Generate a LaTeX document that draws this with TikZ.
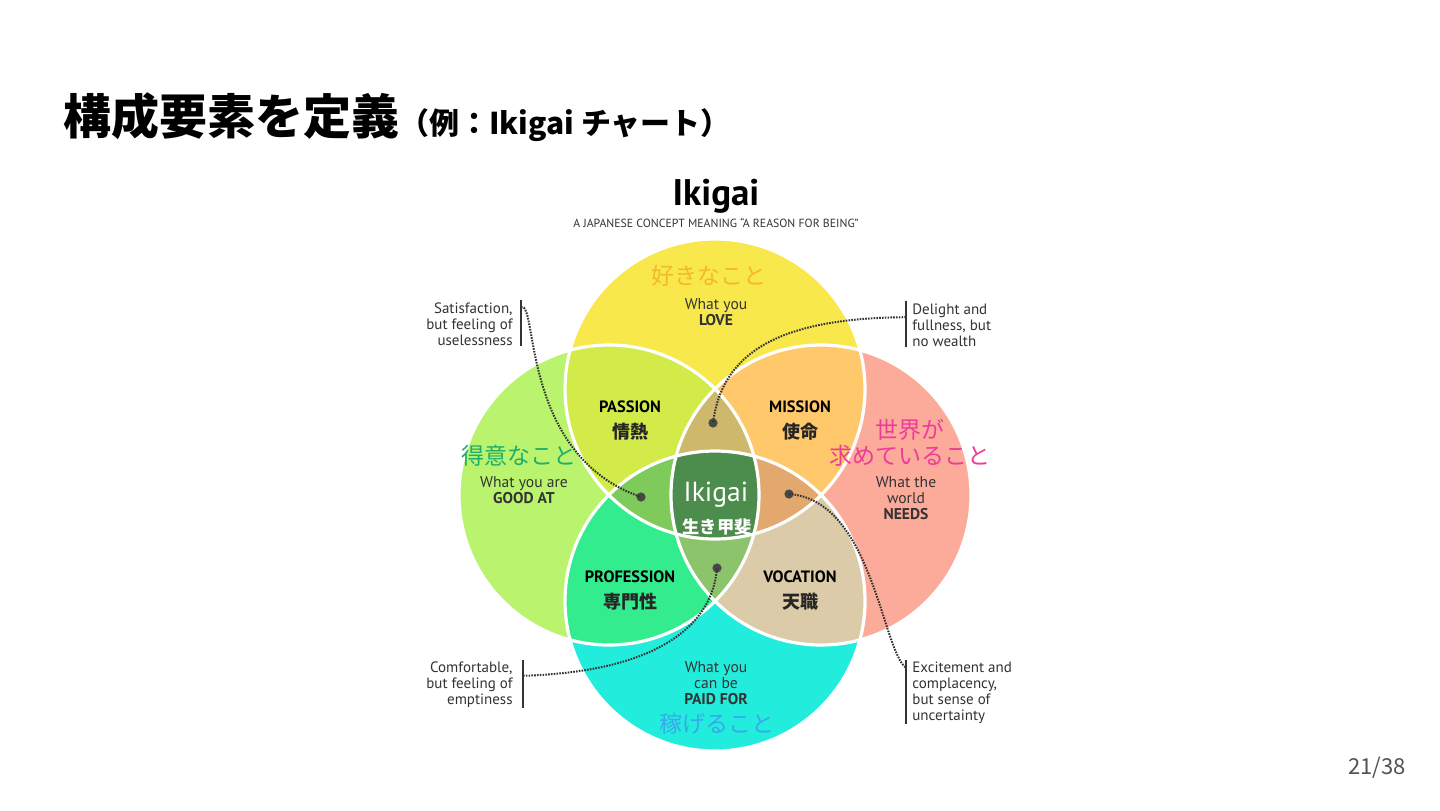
\documentclass[tikz,border=0pt]{standalone}
\usepackage{fontspec}
\usepackage{xcolor}
\usetikzlibrary{positioning}
\newfontfamily\jpfont{Noto Sans CJK JP}
\newfontfamily\chartfont{PT Sans}
\definecolor{love}{HTML}{F8E84C}
\definecolor{good}{HTML}{BAF46E}
\definecolor{world}{HTML}{FCAB9B}
\definecolor{paid}{HTML}{22ECDC}
\definecolor{passion}{HTML}{D2EB48}
\definecolor{mission}{HTML}{FFC86B}
\definecolor{profession}{HTML}{33EC8E}
\definecolor{vocation}{HTML}{DBCBA9}
\definecolor{lensup}{HTML}{CDB86B}
\definecolor{lensleft}{HTML}{7ECB5B}
\definecolor{lensright}{HTML}{E2A86E}
\definecolor{lenslow}{HTML}{8CC46C}
\definecolor{core}{HTML}{4C8C4C}
\definecolor{ink}{HTML}{333333}
\definecolor{jplove}{HTML}{F5B82A}
\definecolor{jpgood}{HTML}{1EAE6A}
\definecolor{jpworld}{HTML}{EE3A98}
\definecolor{jppaid}{HTML}{3BA8EE}
\tikzset{
  ring/.style={draw=white, line width=1.6pt},
  what/.style={font=\chartfont\fontsize{7.8}{8}\selectfont, text=ink, align=center, inner sep=0pt},
  caps/.style={font=\chartfont\bfseries\fontsize{8.2}{9}\selectfont, text=black, inner sep=0pt},
  jplbl/.style={font=\jpfont\bfseries\fontsize{9}{10}\selectfont, text=black!85, inner sep=0pt},
  jpbig/.style={font=\jpfont\fontsize{11.5}{13}\selectfont, align=center, inner sep=0pt},
  side/.style={font=\chartfont\fontsize{7.5}{8}\selectfont, text=ink, inner sep=0pt},
  bar/.style={line width=1.3pt, draw=ink},
  lead/.style={dash pattern=on 0.8pt off 0.6pt, line width=1pt, draw=ink},
  pin/.style={circle, fill=ink!90, inner sep=0pt, minimum size=4.6pt},
}
\newcommand{\R}{150}
\newcommand{\disc}[2]{\fill[#2] (#1) circle[radius=\R];}
\newcommand{\pair}[3]{\begin{scope}\clip (#1) circle[radius=\R]; \disc{#2}{#3}\end{scope}}
\newcommand{\triple}[4]{\begin{scope}\clip (#1) circle[radius=\R]; \clip (#2) circle[radius=\R]; \disc{#3}{#4}\end{scope}}

\begin{document}
\begin{tikzpicture}[x=0.5pt,y=-0.5pt]
  \useasboundingbox[fill=white] (0,0) rectangle (1440,810);
  % title
  \node[anchor=base west, inner sep=0pt, font=\jpfont\bfseries] (title) at (63,134)
    {\fontsize{24}{26}\selectfont 構成要素を定義\fontsize{15}{16}\selectfont （例：Ikigai チャート）};
  \node[anchor=base, inner sep=0pt, font=\chartfont\bfseries\fontsize{18.5}{20}\selectfont] (head) at (716,205) {Ikigai};
  \node[anchor=base, inner sep=0pt, font=\chartfont\fontsize{5.9}{6}\selectfont, text=ink] (sub) at (716,227)
    {A JAPANESE CONCEPT MEANING “A REASON FOR BEING”};
  % circles
  \coordinate (cLove) at (715,389);
  \coordinate (cGood) at (609,495);
  \coordinate (cWorld) at (821,495);
  \coordinate (cPaid) at (715,601);
  \disc{cLove}{love}
  \disc{cGood}{good}
  \disc{cWorld}{world}
  \disc{cPaid}{paid}
  \pair{cLove}{cGood}{passion}
  \pair{cLove}{cWorld}{mission}
  \pair{cGood}{cPaid}{profession}
  \pair{cWorld}{cPaid}{vocation}
  \triple{cLove}{cGood}{cWorld}{lensup}
  \triple{cLove}{cGood}{cPaid}{lensleft}
  \triple{cLove}{cWorld}{cPaid}{lensright}
  \triple{cGood}{cWorld}{cPaid}{lenslow}
  \begin{scope}
    \clip (cLove) circle[radius=\R];
    \clip (cGood) circle[radius=\R];
    \clip (cWorld) circle[radius=\R];
    \disc{cPaid}{core}
  \end{scope}
  \foreach \c in {cLove,cGood,cWorld,cPaid}
    \draw[ring] (\c) circle[radius=\R];
  % circle texts
  \node[jpbig, text=jplove] (jLove) at (709,276) {好きなこと};
  \node[what] (wLove) at (716,312) {What you\\\textbf{LOVE}};
  \node[jpbig, text=jpgood] (jGood) at (519,456) {得意なこと};
  \node[what] (wGood) at (524,490) {What you are\\\textbf{GOOD AT}};
  \node[jpbig, text=jpworld] (jWorld) at (910,443) {世界が\\求めていること};
  \node[what] (wWorld) at (906,498) {What the\\world\\\textbf{NEEDS}};
  \node[what] (wPaid) at (716,683) {What you\\can be\\\textbf{PAID FOR}};
  \node[jpbig, text=jppaid] (jPaid) at (717,724) {稼げること};
  % overlaps
  \node[caps] (passion) at (630,407) {PASSION};
  \node[jplbl] (jPassion) at (630,432) {情熱};
  \node[caps] (mission) at (800,407) {MISSION};
  \node[jplbl] (jMission) at (800,432) {使命};
  \node[caps] (profession) at (630,577) {PROFESSION};
  \node[jplbl] (jProfession) at (630,602) {専門性};
  \node[caps] (vocation) at (800,577) {VOCATION};
  \node[jplbl] (jVocation) at (800,602) {天職};
  \node[font=\chartfont\fontsize{13.8}{15}\selectfont, text=white, inner sep=0pt] (ikigai) at (716,495) {Ikigai};
  \node[font=\jpfont\bfseries\fontsize{8.6}{10}\selectfont, text=white, inner sep=0pt] (jIkigai) at (717,527) {生き甲斐};
  % side notes
  \node[side, align=right, anchor=east] (s1) at (513,324) {Satisfaction,\\but feeling of\\uselessness};
  \node[side, align=left, anchor=west] (s2) at (912,325) {Delight and\\fullness, but\\no wealth};
  \node[side, align=right, anchor=east] (s3) at (513,685) {Comfortable,\\but feeling of\\emptiness};
  \node[side, align=left, anchor=west] (s4) at (912,693) {Excitement and\\complacency,\\but sense of\\uncertainty};
  \draw[bar] ([xshift=4pt,yshift=1pt]s1.north east) coordinate (b1) -- ([xshift=4pt]s1.south east);
  \draw[bar] ([xshift=-3pt,yshift=1pt]s2.north west) coordinate (b2) -- ([xshift=-3pt]s2.south west);
  \draw[bar] ([xshift=5pt,yshift=1pt]s3.north east) coordinate (b3) -- ([xshift=5pt]s3.south east);
  \draw[bar] ([xshift=-3pt,yshift=1pt]s4.north west) coordinate (b4) -- ([xshift=-3pt]s4.south west);
  \coordinate (k1) at ([yshift=-3.5pt]b1);
  \coordinate (k2) at ([yshift=-8pt]b2);
  \coordinate (k3) at ([yshift=-8pt]b3);
  \coordinate (k4) at ([yshift=-4pt]b4);
  \node[pin] (p1) at (641,497) {};
  \node[pin] (p2) at (713,423) {};
  \node[pin] (p3) at (717,568) {};
  \node[pin] (p4) at (789,494) {};
  \draw[lead] (k1) .. controls (538,300) and (520,455) .. (p1.center);
  \draw[lead] (k2) .. controls (780,318) and (722,352) .. (p2.center);
  \draw[lead] (k3) .. controls (650,672) and (712,630) .. (p3.center);
  \draw[lead] (p4.center) .. controls (872,500) and (882,650) .. (k4);
  % page number
  \node[anchor=base, inner sep=0pt, font=\jpfont\fontsize{11}{12}\selectfont, text=ink!85] (page) at (1377,774) {21/38};
\end{tikzpicture}
\end{document}
